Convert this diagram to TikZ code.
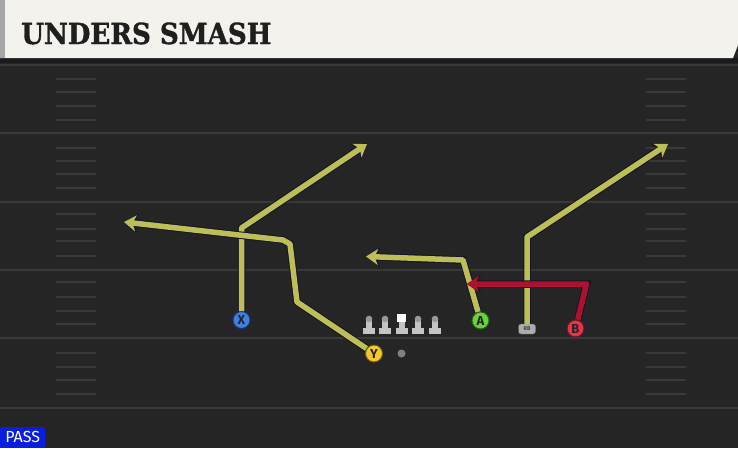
\documentclass[tikz,border=0pt]{standalone}
\usepackage{fontspec}
\setsansfont{Fira Sans}
\newfontfamily\titlefont{DejaVu Serif Bold}[FakeStretch=0.9,FakeBold=1.2]
\usetikzlibrary{arrows.meta}

\definecolor{field}{HTML}{252525}
\definecolor{band}{HTML}{1B1B1B}
\definecolor{header}{HTML}{F4F2EC}
\definecolor{yardline}{HTML}{393939}
\definecolor{routeyel}{HTML}{BDBF56}
\definecolor{routered}{HTML}{B0102F}
\definecolor{routeout}{HTML}{14142A}
\definecolor{xblue}{HTML}{3F7FE8}
\definecolor{yyellow}{HTML}{F5C82A}
\definecolor{agreen}{HTML}{66D43A}
\definecolor{bred}{HTML}{E8334A}
\definecolor{passblue}{HTML}{0A1EE0}
\definecolor{linegray}{HTML}{C4C4C4}

\begin{document}
\begin{tikzpicture}
[
x=1pt,y=-1pt,
player/.style={draw=#1!45!black,fill=#1,circle,minimum size=17pt,inner sep=0pt,line width=1pt,
               font=\sffamily\bfseries\fontsize{13}{13}\selectfont,text=black!85},
route/.style={draw=#1,line width=5.5pt,line join=round,-{Stealth[length=12pt,width=16pt,inset=3.5pt]},
              preaction={draw=routeout,line width=7.5pt,-{Stealth[length=14pt,width=19pt,inset=4pt]}}},
route/.default=routeyel,
yard/.style={draw=yardline,line width=2pt},
hash/.style={draw=yardline,line width=1.5pt},
]
\useasboundingbox (0,0) rectangle (738,448);

%Field and header
\fill[field] (0,0) rectangle (738,448);
\fill[band] (0,58) rectangle (738,63);
\fill[header] (0,0) -- (738,0) -- (738,45) -- (733,58) -- (0,58) -- cycle;
\fill[black!35] (0,0) rectangle (5,58);
\node[anchor=base west,inner sep=0pt,font=\titlefont\fontsize{29}{29}\selectfont,text=black!88] (title) at (21,44) {UNDERS SMASH};

%Yard lines and hash marks
\foreach \y in {65,133,202,270,338,408}
  \draw[yard] (0,\y) -- (738,\y);
\foreach \y in {79,92,106,120,148,161,174,188,214,229,241,256,282,297,311,324,353,367,380,394} {
  \draw[hash] (56,\y) -- (96,\y);
  \draw[hash] (646,\y) -- (686,\y);
}

%Place the nodes
\node[player=xblue] (X) at (241.5,320) {X};
\node[player=yyellow] (Y) at (374,353.5) {Y};
\node[player=agreen] (A) at (480.5,320.5) {A};
\node[player=bred] (B) at (575.5,328.5) {B};
\node[draw=black!60,fill=black!32,rounded corners=2.5pt,minimum width=17pt,minimum height=10pt,inner sep=0pt,
      font=\sffamily\bfseries\fontsize{5.5}{5.5}\selectfont,text=black!75] (RB) at (527,329) {RB};
\node[circle,fill=black!50,minimum size=8pt,inner sep=0pt] (ball) at (401.5,353.5) {};

%Line
\foreach \x in {369,385,418,435} {
  \fill[linegray] (\x-6,328) rectangle (\x+6,334);
  \fill[linegray] (\x-3,320) rectangle (\x+3,328);
  \fill[black!40] (\x,319) circle (3.3);
}
\fill[linegray] (395.5,328) rectangle (407.5,334);
\fill[linegray] (398.5,320) rectangle (404.5,328);
\fill[white] (397,314) rectangle (406,322);

%Route points
\coordinate (xbreak) at (241.5,228);
\coordinate (xtip) at (367,144);
\coordinate (ycut) at (297,302);
\coordinate (ybreak) at (290,244);
\coordinate (yturn) at (283,240);
\coordinate (ytip) at (124,222);
\coordinate (abreak) at (463,260);
\coordinate (atip) at (366,256.5);
\coordinate (rbbreak) at (527,237);
\coordinate (rbtip) at (668,144);
\coordinate (bbreak) at (586.5,284);
\coordinate (btip) at (467,284);

%Draw the routes
\draw[route] (X) -- (xbreak) -- (xtip);
\draw[route] (Y) -- (ycut) -- (ybreak) -- (yturn) -- (ytip);
\draw[route] (A) -- (abreak) -- (atip);
\draw[route] (RB) -- (rbbreak) -- (rbtip);
\draw[route=routered] (B) -- (bbreak) -- (btip);

%Play type
\node[fill=passblue,anchor=south west,minimum width=45pt,minimum height=21pt,inner sep=0pt,
      font=\sffamily\fontsize{16}{16}\selectfont,text=white] (pass) at (0,448) {PASS};
\end{tikzpicture}
\end{document}
